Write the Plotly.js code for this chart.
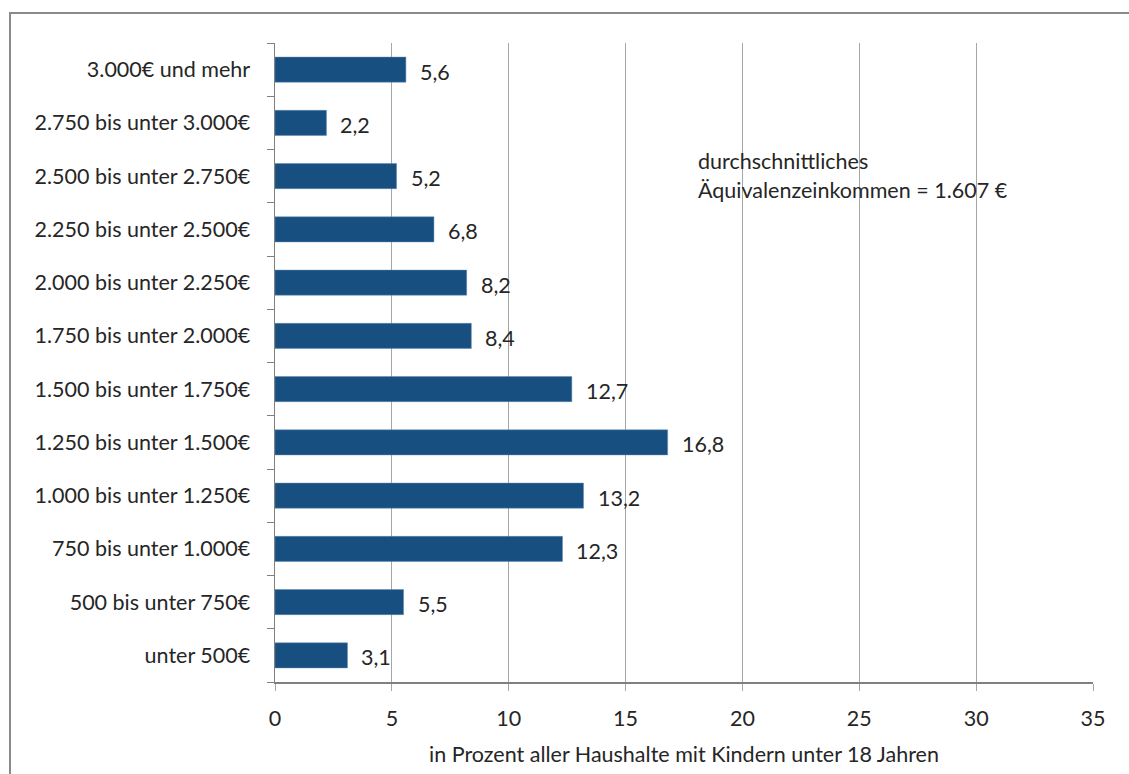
<!DOCTYPE html>
<html><head><meta charset="utf-8">
<script src="https://cdn.plot.ly/plotly-3.0.1.min.js"></script>
<style>
html,body{margin:0;padding:0;background:#fff;}
#wrap{position:relative;width:1129px;height:774px;overflow:hidden;}
#chart{width:1129px;height:774px;}
#frame{position:absolute;left:9px;top:12px;width:1200px;height:900px;border:2px solid #8a8a8a;box-sizing:border-box;pointer-events:none;}
</style></head>
<body><div id="wrap"><div id="chart"></div><div id="frame"></div></div>
<script>
const categories = ["unter 500€","500 bis unter 750€","750 bis unter 1.000€","1.000 bis unter 1.250€","1.250 bis unter 1.500€","1.500 bis unter 1.750€","1.750 bis unter 2.000€","2.000 bis unter 2.250€","2.250 bis unter 2.500€","2.500 bis unter 2.750€","2.750 bis unter 3.000€","3.000€ und mehr"];
const values = [3.1,5.5,12.3,13.2,16.8,12.7,8.4,8.2,6.8,5.2,2.2,5.6];
const xTicks = [0,5,10,15,20,25,30,35];
const xTitle = "in Prozent aller Haushalte mit Kindern unter 18 Jahren";
const noteLines = ["durchschnittliches","Äquivalenzeinkommen = 1.607 €"];

const FONT = "Lato, 'Open Sans', sans-serif";
const FS = 21.5;
const TXT = '#262626';
const trace = {
  type:'bar', orientation:'h', x:values, y:categories,
  marker:{color:'#174F80', line:{color:'#5a86b0', width:0.5}},
  hoverinfo:'none'
};
const ann = values.map((v,i)=>({
  x:v, y:categories[i], xref:'x', yref:'y', text:v.toFixed(1).replace('.',','),
  showarrow:false, xanchor:'left', yanchor:'middle', xshift:12, yshift:-2,
  font:{family:FONT,size:FS,color:TXT}
}));
ann.push({xref:'paper',yref:'paper',x:0.515,y:0.816,text:noteLines[0],showarrow:false,xanchor:'left',yanchor:'middle',font:{family:FONT,size:FS,color:TXT}});
ann.push({xref:'paper',yref:'paper',x:0.515,y:0.770,text:noteLines[1],showarrow:false,xanchor:'left',yanchor:'middle',font:{family:FONT,size:FS,color:TXT}});

const layout = {
  width:1129, height:774,
  margin:{l:275, r:36, t:43, b:92},
  paper_bgcolor:'rgba(0,0,0,0)', plot_bgcolor:'#fff',
  bargap:0.53, showlegend:false,
  font:{family:FONT,size:FS,color:TXT},
  xaxis:{range:[0,35], tickvals:xTicks, ticktext:xTicks.map(String), showgrid:true, gridcolor:'#a6a6a6', gridwidth:1,
    zeroline:false, showline:true, linecolor:'#808080', linewidth:1.5, ticks:'outside', ticklen:7, tickcolor:'#a6a6a6',
    ticklabelstandoff:10, tickfont:{family:FONT,size:FS,color:TXT},
    title:{text:xTitle, font:{family:FONT,size:FS,color:TXT}, standoff:16}, fixedrange:true},
  yaxis:{type:'category', categoryorder:'array', categoryarray:categories, showgrid:false, zeroline:false,
    showline:true, linecolor:'#808080', linewidth:1.5, ticks:'outside', tickson:'boundaries', ticklen:7, tickcolor:'#808080',
    ticklabelstandoff:19, tickfont:{family:FONT,size:FS,color:TXT}, fixedrange:true},
  annotations:ann
};
Plotly.newPlot('chart',[trace],layout,{displayModeBar:false,staticPlot:true});
</script></body></html>
